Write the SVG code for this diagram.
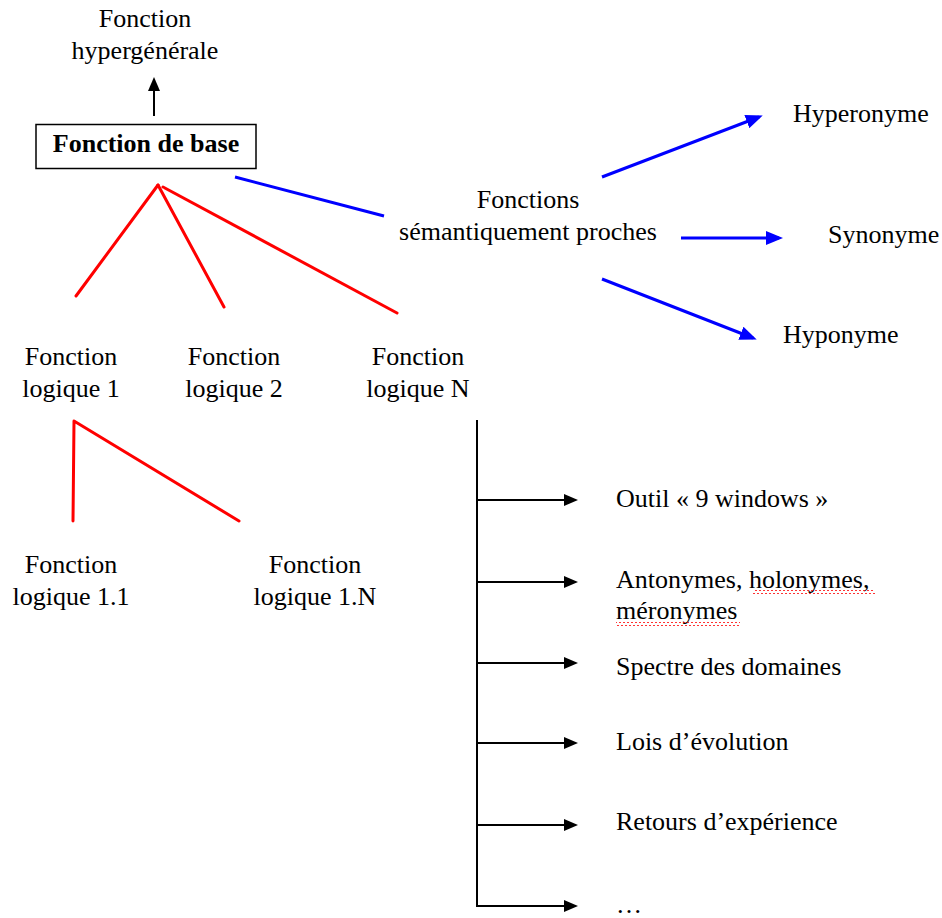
<svg xmlns="http://www.w3.org/2000/svg" width="942" height="918" viewBox="0 0 942 918">
<style>
text{font-family:"Liberation Serif","Times New Roman",serif;font-size:26px;fill:#000}
.c{text-anchor:middle}
.b{font-weight:bold}
.red{stroke:#ff0000;stroke-width:3;fill:none;stroke-linecap:round;stroke-linejoin:round}
.blue{stroke:#0000ff;stroke-width:3;fill:none}
.blk{stroke:#000;stroke-width:2;fill:none}
</style>
<defs>
<marker id="ab" markerUnits="userSpaceOnUse" markerWidth="14" markerHeight="12" refX="11" refY="6" orient="auto">
<path d="M0,0 L14,6 L0,12 z" fill="#000"/>
</marker>
<marker id="au" markerUnits="userSpaceOnUse" markerWidth="17" markerHeight="14" refX="13" refY="7" orient="auto">
<path d="M0,0 L17,7 L0,14 z" fill="#0000ff"/>
</marker>
<pattern id="wavy" width="4" height="4" patternUnits="userSpaceOnUse">
<path d="M0,3 L2,1 L4,3" stroke="#ff0000" stroke-width="0.8" fill="none"/>
</pattern>
</defs>

<g id="connectors">
<line class="blk" x1="154" y1="116" x2="154" y2="80" marker-end="url(#ab)"/>
<line class="red" x1="158" y1="185" x2="76" y2="296"/>
<line class="red" x1="158" y1="185" x2="224" y2="307"/>
<line class="red" x1="163" y1="187" x2="397" y2="313"/>
<polyline class="red" points="73,521 74,421 239,521"/>
<line class="blue" x1="235" y1="177" x2="384" y2="216"/>
<line class="blue" x1="602" y1="177" x2="759" y2="117" marker-end="url(#au)"/>
<line class="blue" x1="681" y1="238" x2="779" y2="238" marker-end="url(#au)"/>
<line class="blue" x1="602" y1="279" x2="753" y2="338" marker-end="url(#au)"/>
<line class="blk" x1="477" y1="420" x2="477" y2="907"/>
<line class="blk" x1="476" y1="500" x2="575" y2="500" marker-end="url(#ab)"/>
<line class="blk" x1="476" y1="582" x2="575" y2="582" marker-end="url(#ab)"/>
<line class="blk" x1="476" y1="663" x2="575" y2="663" marker-end="url(#ab)"/>
<line class="blk" x1="476" y1="743" x2="575" y2="743" marker-end="url(#ab)"/>
<line class="blk" x1="476" y1="825" x2="575" y2="825" marker-end="url(#ab)"/>
<line class="blk" x1="476" y1="906" x2="575" y2="906" marker-end="url(#ab)"/>
</g>

<g id="n-hyper"><text class="c" x="145" y="27">Fonction</text><text class="c" x="145" y="59">hypergénérale</text></g>
<g id="n-base"><rect x="36" y="124.5" width="220" height="44" fill="#fff" stroke="#000" stroke-width="1.5"/><text class="c b" x="146" y="152">Fonction de base</text></g>
<g id="n-sem"><text class="c" x="528" y="208">Fonctions</text><text class="c" x="528" y="240">sémantiquement proches</text></g>
<g id="n-hyperonyme"><text x="793" y="122">Hyperonyme</text></g>
<g id="n-synonyme"><text x="828" y="243">Synonyme</text></g>
<g id="n-hyponyme"><text x="783" y="343">Hyponyme</text></g>
<g id="n-fl1"><text class="c" x="71" y="365">Fonction</text><text class="c" x="71" y="397">logique 1</text></g>
<g id="n-fl2"><text class="c" x="234" y="365">Fonction</text><text class="c" x="234" y="397">logique 2</text></g>
<g id="n-flN"><text class="c" x="418" y="365">Fonction</text><text class="c" x="418" y="397">logique N</text></g>
<g id="n-fl11"><text class="c" x="71" y="573">Fonction</text><text class="c" x="71" y="605">logique 1.1</text></g>
<g id="n-fl1N"><text class="c" x="315" y="573">Fonction</text><text class="c" x="315" y="605">logique 1.N</text></g>
<g id="n-outil"><text x="616" y="507">Outil « 9 windows »</text></g>
<g id="n-anto"><text x="616" y="588">Antonymes, holonymes,</text><text x="616" y="619">méronymes</text>
<rect x="753" y="590" width="122" height="4" fill="url(#wavy)"/>
<rect x="616" y="622" width="124" height="4" fill="url(#wavy)"/></g>
<g id="n-spectre"><text x="616" y="675">Spectre des domaines</text></g>
<g id="n-lois"><text x="616" y="750">Lois d’évolution</text></g>
<g id="n-retours"><text x="616" y="830">Retours d’expérience</text></g>
<g id="n-etc"><text x="616" y="913">…</text></g>
</svg>
